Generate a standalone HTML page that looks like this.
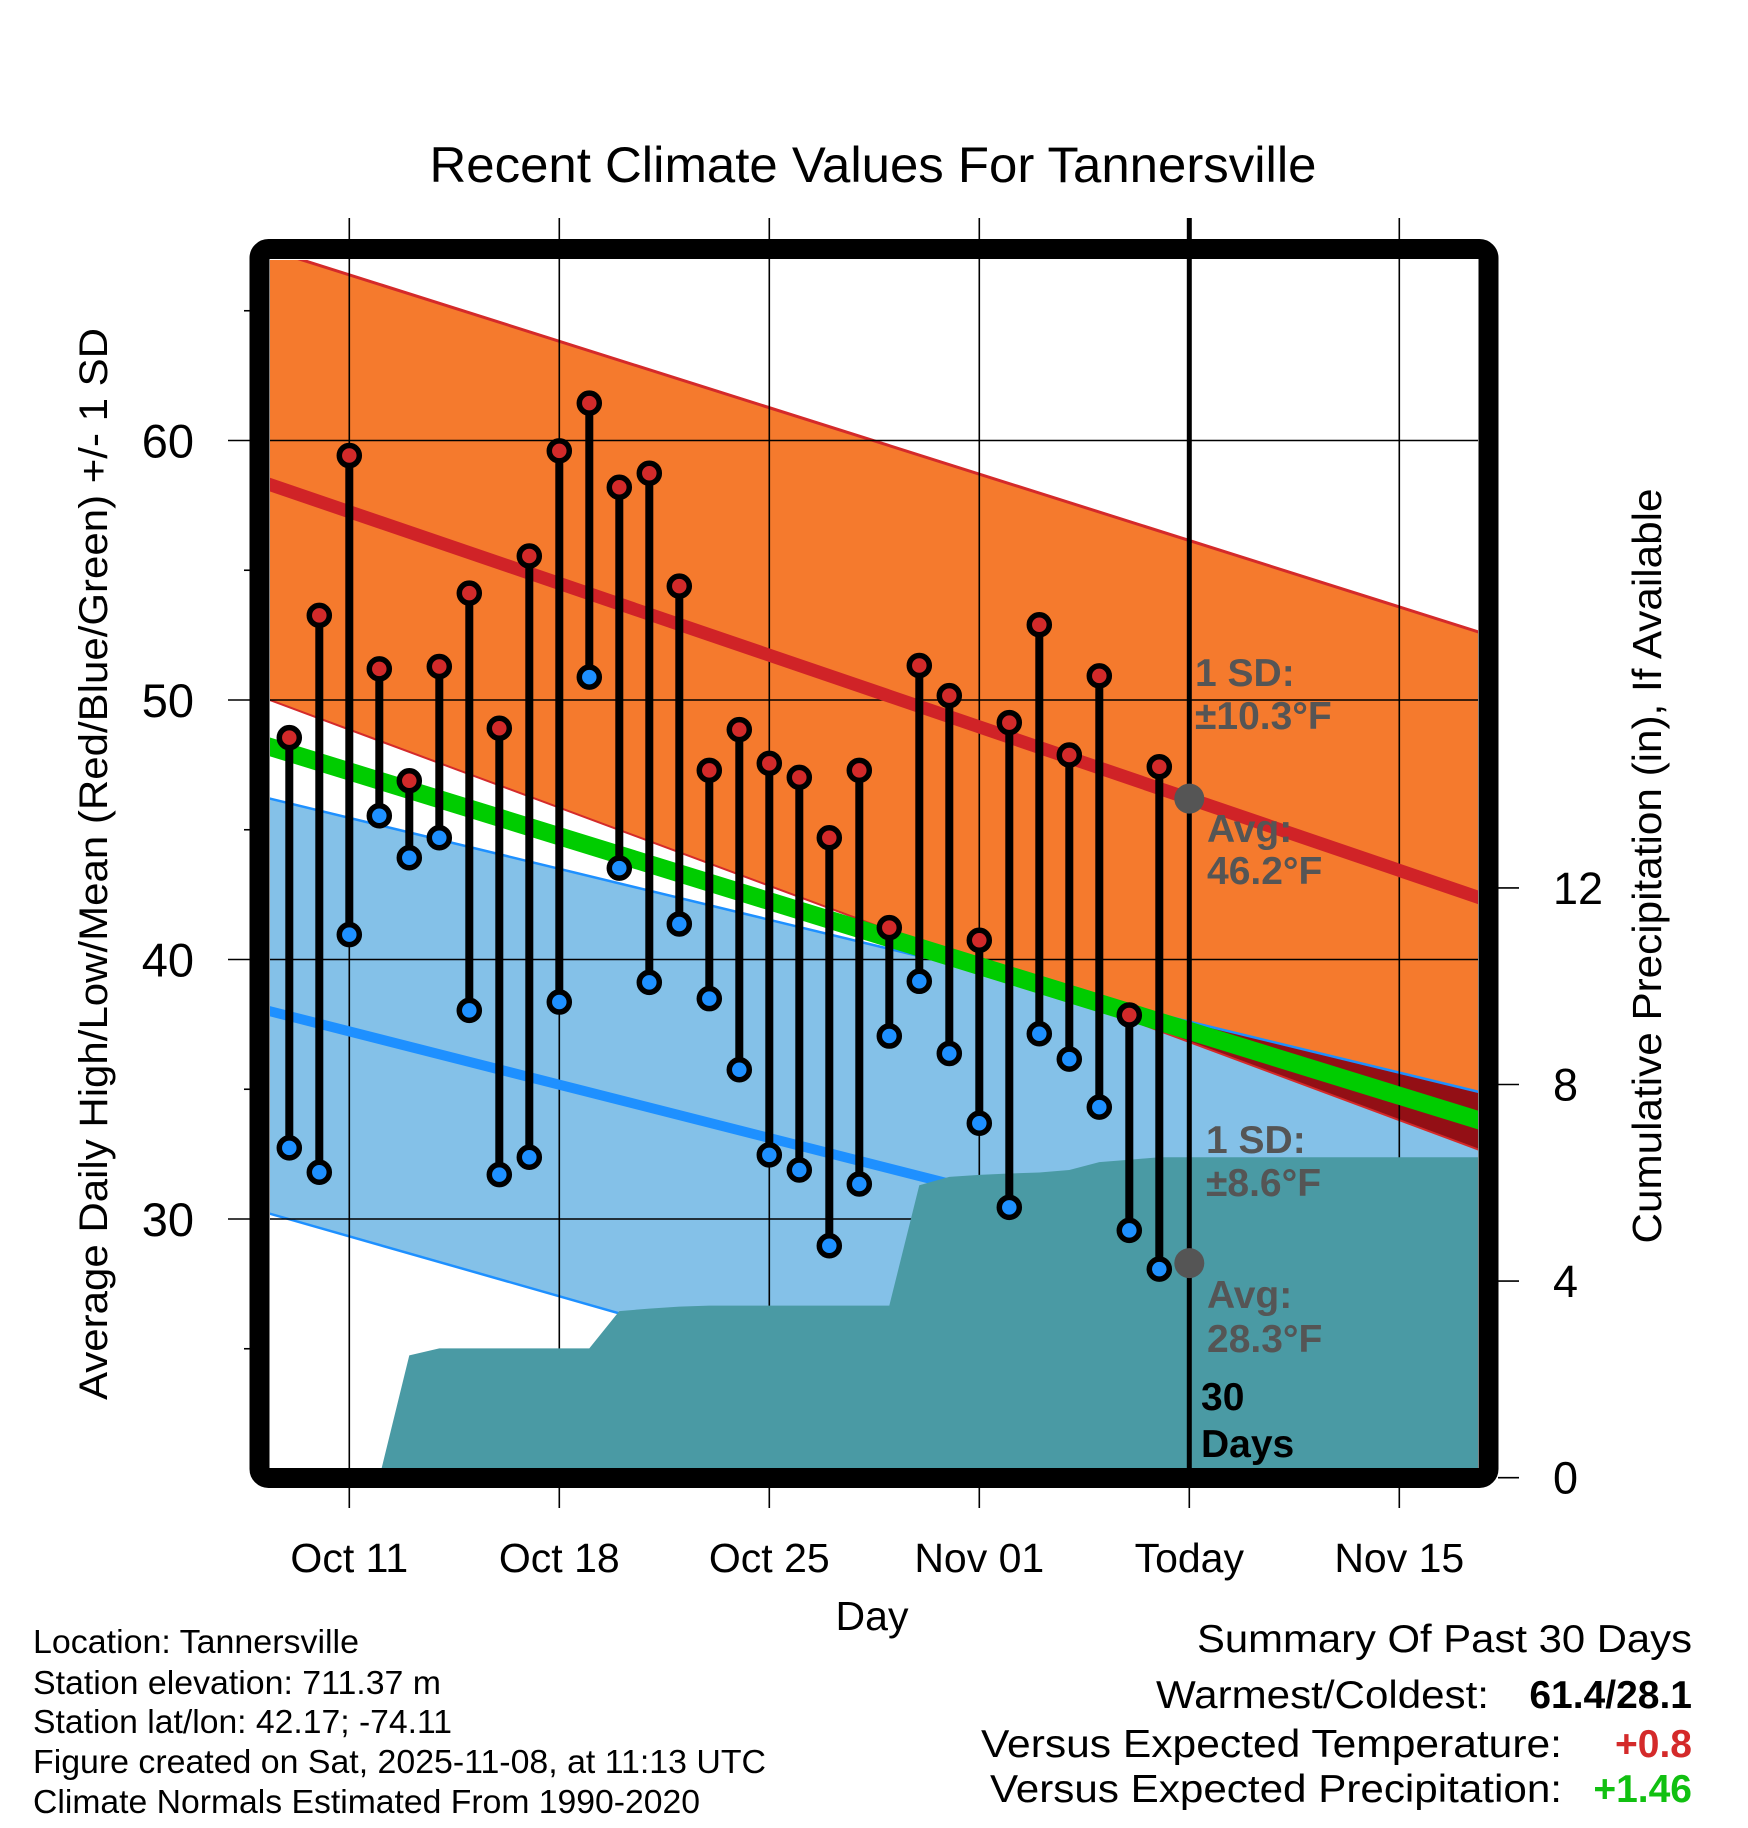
<!DOCTYPE html>
<html><head><meta charset="utf-8"><style>
html,body{margin:0;padding:0;background:#fff;}
svg{display:block;font-family:"Liberation Sans",Arial,sans-serif;}
</style></head><body>
<svg id="chart" xmlns="http://www.w3.org/2000/svg" width="1748" height="1828" viewBox="0 0 1748 1828">
<defs><clipPath id="plotclip"><rect x="270" y="260" width="1208" height="1208"/></clipPath></defs>
<text x="873" y="182" font-size="50" text-anchor="middle" textLength="887" lengthAdjust="spacingAndGlyphs">Recent Climate Values For Tannersville</text>
<g id="plot" clip-path="url(#plotclip)"></g>
<g id="over"></g>
<rect x="259.5" y="249" width="1229" height="1229" rx="9" fill="none" stroke="#000" stroke-width="20"/>
<g id="axes"></g>
<text transform="translate(107,864) rotate(-90)" font-size="40" text-anchor="middle" textLength="1072" lengthAdjust="spacingAndGlyphs">Average Daily High/Low/Mean (Red/Blue/Green) +/- 1 SD</text>
<text transform="translate(1661,866) rotate(-90)" font-size="41" text-anchor="middle" textLength="755" lengthAdjust="spacingAndGlyphs">Cumulative Precipitation (in), If Available</text>
<text x="872" y="1630" font-size="41" text-anchor="middle">Day</text>
<g font-size="33">
<text x="33" y="1653" textLength="326" lengthAdjust="spacingAndGlyphs">Location: Tannersville</text>
<text x="33" y="1694" textLength="408" lengthAdjust="spacingAndGlyphs">Station elevation: 711.37 m</text>
<text x="33" y="1733" textLength="419" lengthAdjust="spacingAndGlyphs">Station lat/lon: 42.17; -74.11</text>
<text x="33" y="1773" textLength="733" lengthAdjust="spacingAndGlyphs">Figure created on Sat, 2025-11-08, at 11:13 UTC</text>
<text x="33" y="1813" textLength="667" lengthAdjust="spacingAndGlyphs">Climate Normals Estimated From 1990-2020</text>
</g>
<g font-size="39">
<text x="1197" y="1652" textLength="495" lengthAdjust="spacingAndGlyphs">Summary Of Past 30 Days</text>
<text x="1156" y="1708" textLength="333" lengthAdjust="spacingAndGlyphs">Warmest/Coldest:</text>
<text x="1692" y="1708" text-anchor="end" font-weight="bold">61.4/28.1</text>
<text x="981" y="1757" textLength="581" lengthAdjust="spacingAndGlyphs">Versus Expected Temperature:</text>
<text x="1692" y="1757" text-anchor="end" font-weight="bold" fill="#d42a2a">+0.8</text>
<text x="990" y="1802" textLength="572" lengthAdjust="spacingAndGlyphs">Versus Expected Precipitation:</text>
<text x="1692" y="1802" text-anchor="end" font-weight="bold" fill="#11c011">+1.46</text>
</g>
</svg>
<script>
// ---- data ----
const days = [-2,-1,0,1,2,3,4,5,6,7,8,9,10,11,12,13,14,15,16,17,18,19,20,21,22,23,24,25,26,27];
const highs = [48.55,53.26,59.42,51.2,46.89,51.29,54.12,48.91,55.55,59.6,61.44,58.2,58.74,54.39,47.29,48.86,47.56,47.02,44.69,47.29,41.23,51.33,50.17,40.74,49.13,52.9,47.88,50.93,37.86,47.43];
const lows = [32.74,31.8,40.96,45.54,43.92,44.69,38.04,31.71,32.38,38.36,50.88,43.52,39.12,41.37,38.49,35.75,32.47,31.89,28.97,31.35,37.05,39.16,36.38,33.69,30.45,37.14,36.16,34.31,29.56,28.07];
const precipDays = [1,2,3,4,5,6,7,8,9,10,11,12,13,14,15,16,17,18,19,20,21,22,23,24,25,26,27];
const precipCum = [0,2.49,2.63,2.63,2.63,2.63,2.63,2.63,3.39,3.44,3.48,3.5,3.5,3.5,3.5,3.5,3.5,3.5,5.95,6.12,6.16,6.19,6.21,6.26,6.42,6.47,6.52];
const normDays = [-3,38];
const highMean = [58.44,42.25];
const highUpper = [67.48,52.49];
const highLower = [50.15,32.52];
const lowMean = [38.11,26.08];
const lowUpper = [46.3,34.8];
const lowLower = [30.32,16.8];
const meanLine = [48.32,33.68];
const todayDay = 28;
const todayHighAvg = 46.2;
const todayLowAvg = 28.3;
const xTickDays = [0,7,14,21,28,35];
const xTickLabels = ["Oct 11","Oct 18","Oct 25","Nov 01","Today","Nov 15"];
const yTicks = [30,40,50,60];
const yMinor = [25,35,45,55,65];
const pTicks = [0,4,8,12];

// ---- axes ----
const X = d => 349.3 + 30*d;
const Y = v => 440.5 - 25.95*(v-60);
const P = p => 1477.7 - 49.15*p;
const NS = "http://www.w3.org/2000/svg";
function mk(tag, parent, attrs){const e=document.createElementNS(NS,tag);for(const k in attrs)e.setAttribute(k,attrs[k]);parent.appendChild(e);return e;}
const plot = document.getElementById('plot');
const over = document.getElementById('over');
const axes = document.getElementById('axes');
const lerp = (arr,d)=>arr[0]+(arr[1]-arr[0])*(d-normDays[0])/(normDays[1]-normDays[0]);
const pts = (arr)=>normDays.map((d,i)=>X(d)+','+Y(arr[i]));

let e = mk('polygon',plot,{points:pts(highUpper).concat(pts(highLower).reverse()).join(' '),fill:'#f57a2d'});


e = mk('polygon',plot,{points:pts(lowUpper).concat(pts(lowLower).reverse()).join(' '),fill:'#84c1e8'});


const a0=lowUpper[0]-highLower[0], a1=lowUpper[1]-highLower[1];
const dc = normDays[0] + (normDays[1]-normDays[0])*(-a0)/(a1-a0);
e = mk('polygon',plot,{points:[X(dc)+','+Y(lerp(lowUpper,dc)),X(normDays[1])+','+Y(lowUpper[1]),X(normDays[1])+','+Y(highLower[1])].join(' '),fill:'#930f15'});


[[highUpper,'#d42a2a',3,'high-upper-edge'],[highLower,'#d42a2a',2,'high-lower-edge'],[lowUpper,'#1e90ff',2.5,'low-upper-edge'],[lowLower,'#1e90ff',2.5,'low-lower-edge']].forEach(s=>{
  const l = mk('polyline',plot,{points:pts(s[0]).join(' '),fill:'none',stroke:s[1],'stroke-width':s[2]});
  
  
});
yTicks.forEach(v=>{
  const l = mk('line',plot,{x1:270,x2:1478,y1:Y(v),y2:Y(v),stroke:'#000','stroke-width':1.6});
  
  
});
xTickDays.forEach(d=>{
  const l = mk('line',plot,{x1:X(d),x2:X(d),y1:260,y2:1468,stroke:'#000','stroke-width':1.6});
  
  
});
[[meanLine,'#00cc00',18,'mean-normal-line'],[highMean,'#d02327',13,'high-normal-line'],[lowMean,'#1e90ff',10,'low-normal-line']].forEach(s=>{
  const l = mk('polyline',plot,{points:pts(s[0]).join(' '),fill:'none',stroke:s[1],'stroke-width':s[2]});
  
  
});
let pp = [X(precipDays[0])+','+P(0)];
precipDays.forEach((d,i)=>pp.push(X(d)+','+P(precipCum[i])));
pp.push('1480,'+P(precipCum[precipCum.length-1]));
pp.push('1480,'+P(0));
e = mk('polygon',plot,{points:pp.join(' '),fill:'#4a9aa4'});



e = mk('line',over,{x1:X(todayDay),x2:X(todayDay),y1:218,y2:1468,stroke:'#000','stroke-width':5});


xTickDays.forEach(d=>{
  if(d===todayDay) return;
  const l = mk('line',over,{x1:X(d),x2:X(d),y1:218,y2:260,stroke:'#000','stroke-width':1.6});
  
  
});
xTickDays.forEach(d=>{
  const l = mk('line',over,{x1:X(d),x2:X(d),y1:1478,y2:1508,stroke:'#000','stroke-width':1.6});
  
  
});
days.forEach((d,i)=>{
  const l = mk('line',over,{x1:X(d),x2:X(d),y1:Y(highs[i]),y2:Y(lows[i]),stroke:'#000','stroke-width':8});
  
  
});
days.forEach((d,i)=>{
  const h = mk('circle',over,{cx:X(d),cy:Y(highs[i]),r:10,fill:'#d22a2a',stroke:'#000','stroke-width':5.5});
  
  
  const lo = mk('circle',over,{cx:X(d),cy:Y(lows[i]),r:10,fill:'#1e90ff',stroke:'#000','stroke-width':5.5});
  
  
});
e = mk('circle',over,{cx:X(todayDay),cy:Y(todayHighAvg),r:15,fill:'#555'});


e = mk('circle',over,{cx:X(todayDay),cy:Y(todayLowAvg),r:15,fill:'#555'});



const ann = [
 ['1 SD:',1195,686,'#555','high-sd-label'],['±10.3°F',1195,729,'#555','high-sd-value'],
 ['Avg:',1207,842,'#555','high-avg-label'],['46.2°F',1207,884,'#555','high-avg-value'],
 ['1 SD:',1206,1153,'#555','low-sd-label'],['±8.6°F',1206,1196,'#555','low-sd-value'],
 ['Avg:',1207,1308,'#555','low-avg-label'],['28.3°F',1207,1352,'#555','low-avg-value'],
 ['30',1201,1410,'#000','days-count'],['Days',1201,1457,'#000','days-label']];
ann.forEach(a=>{
  const t = mk('text',over,{x:a[1],y:a[2],fill:a[3],'font-size':39,'font-weight':'bold'});
  t.textContent=a[0];
  
  
});

yTicks.forEach(v=>{
  const l = mk('line',axes,{x1:228,x2:250,y1:Y(v),y2:Y(v),stroke:'#000','stroke-width':1.6});
  
  
  const t = mk('text',axes,{x:194,y:Y(v)+17,'font-size':47,'text-anchor':'end'});
  t.textContent=String(v);
  
  
});
yMinor.forEach(v=>{
  const l = mk('line',axes,{x1:244,x2:250,y1:Y(v),y2:Y(v),stroke:'#000','stroke-width':1.6});
  
  
});
pTicks.forEach(p=>{
  const l = mk('line',axes,{x1:1498,x2:1519,y1:P(p),y2:P(p),stroke:'#000','stroke-width':1.6});
  
  
  const t = mk('text',axes,{x:1553,y:P(p)+16,'font-size':45});
  t.textContent=String(p);
  
  
});
xTickDays.forEach((d,i)=>{
  const t = mk('text',axes,{x:X(d),y:1572,'font-size':41,'text-anchor':'middle'});
  t.textContent=xTickLabels[i];
  
  
});
</script>
</body></html>
